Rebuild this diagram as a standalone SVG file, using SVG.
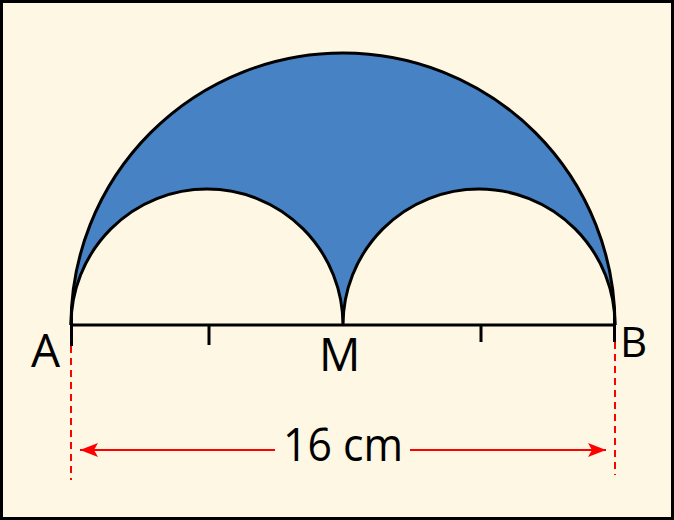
<svg xmlns="http://www.w3.org/2000/svg" width="674" height="520" viewBox="0 0 674 520">
<defs>
<style>
.lbl{font-family:"Open Sans","Liberation Sans",sans-serif;fill:#000}
.arc{fill:none;stroke:#000;stroke-width:3}
.red{stroke:#FF0000;stroke-width:2;fill:none}
.dash{stroke:#FF0000;stroke-width:2;stroke-dasharray:7 5;fill:none}
</style>
<marker id="ah" viewBox="0 0 18 14" refX="18" refY="7" markerWidth="18" markerHeight="14" markerUnits="userSpaceOnUse" orient="auto">
<path d="M0,0 L18,7 L0,14 L4,7 Z" fill="#FF0000"/>
</marker>
</defs>
<rect x="1.5" y="1.5" width="671" height="517" fill="#FDF7E3" stroke="#000" stroke-width="3"/>
<g id="shape">
<path d="M71,325 A272,272 0 0 1 615,325 A136,136 0 0 0 343,325 A136,136 0 0 0 71,325 Z" fill="#4682C4"/>
<path class="arc" d="M71,325 A272,272 0 0 1 615,325"/>
<path class="arc" d="M71,325 A136,136 0 0 1 343,325 A136,136 0 0 1 615,325"/>
</g>
<g id="segment">
<line x1="71" y1="325" x2="615" y2="325" stroke="#000" stroke-width="3"/>
<line x1="71.5" y1="318" x2="71.5" y2="346" stroke="#000" stroke-width="3"/>
<line x1="614.5" y1="318" x2="614.5" y2="342" stroke="#000" stroke-width="3"/>
<line x1="209" y1="325" x2="209" y2="345" stroke="#000" stroke-width="3"/>
<line x1="481" y1="325" x2="481" y2="342" stroke="#000" stroke-width="3"/>
</g>
<g id="labels">
<text class="lbl" x="31" y="367" font-size="46">A</text>
<text class="lbl" x="319" y="371" font-size="46">M</text>
<text class="lbl" x="620" y="357" font-size="42">B</text>
</g>
<g id="connectors">
<line class="dash" x1="71" y1="346" x2="71" y2="480"/>
<line class="dash" x1="615" y1="342" x2="615" y2="475"/>
<line class="red" x1="275" y1="450" x2="80" y2="450" marker-end="url(#ah)"/>
<line class="red" x1="410" y1="450" x2="606" y2="450" marker-end="url(#ah)"/>
</g>
<text class="lbl" x="343" y="461" font-size="46" text-anchor="middle" textLength="120" lengthAdjust="spacingAndGlyphs">16 cm</text>
</svg>
